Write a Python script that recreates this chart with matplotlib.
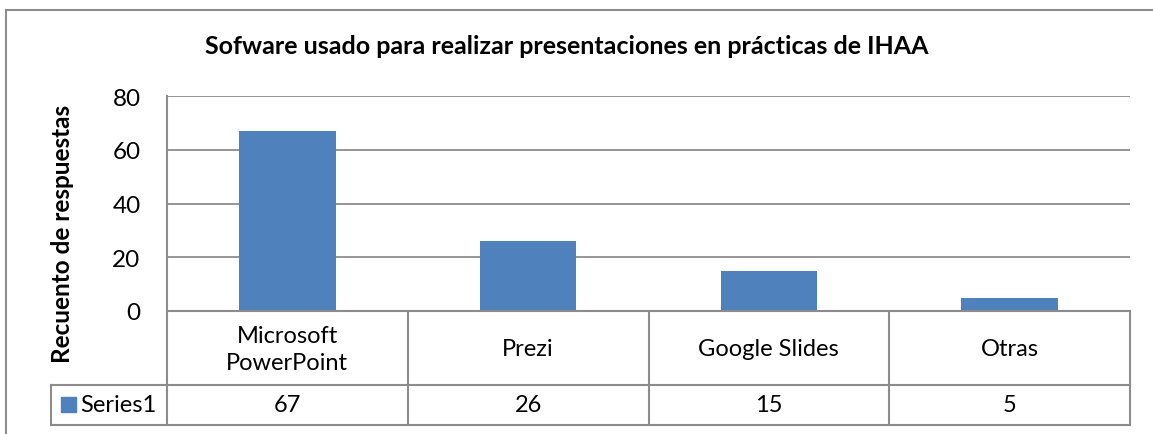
import matplotlib.pyplot as plt
import matplotlib.transforms as mtransforms
from matplotlib.lines import Line2D
from matplotlib.patches import Rectangle

# Data
categories = ['Microsoft\nPowerPoint', 'Prezi', 'Google Slides', 'Otras']
values = [67, 26, 15, 5]
series_name = 'Series1'
title = 'Sofware usado para realizar presentaciones en prácticas de IHAA'
ylabel = 'Recuento de respuestas'
yticks = [0, 20, 40, 60, 80]

W, H = 1153, 435
bar_color = '#4F81BD'
line_color = '#8C8C8C'
plt.rcParams['font.family'] = ['Lato', 'DejaVu Sans']


def fx(px):
    return px / W


def fy(py):
    return 1 - py / H


fig = plt.figure(figsize=(W / 100, H / 100), dpi=100)
ax = fig.add_axes([fx(167), fy(312), fx(1130) - fx(167), fy(97) - fy(312)])

x = list(range(len(categories)))
ax.bar(x, values, width=0.4, color=bar_color, zorder=2)
ax.set_xlim(-0.5, len(categories) - 0.5)
ax.set_ylim(0, 80)
ax.set_yticks(yticks)
ax.set_xticks([])
ax.tick_params(axis='y', length=0, pad=19, labelsize=17.5)
ax.yaxis.grid(True, color=line_color, linewidth=1.3, zorder=0)
for s in ax.spines.values():
    s.set_visible(False)

# chart border (top and left visible)
fig.add_artist(Line2D([fx(6), fx(6)], [fy(11), 0], color=line_color, lw=1.5))
fig.add_artist(Line2D([fx(6), 1], [fy(11), fy(11)], color=line_color, lw=1.5))

# data table
tr = mtransforms.blended_transform_factory(ax.transData, fig.transFigure)
left_px = -0.5 + (51 - 167) / 963 * len(categories)
kw = dict(color=line_color, lw=1.5, transform=tr, clip_on=False)
fig.add_artist(Line2D([-0.5, -0.5], [fy(97), fy(426)], **kw))
for i in range(1, len(categories) + 1):
    fig.add_artist(Line2D([i - 0.5, i - 0.5], [fy(312), fy(426)], **kw))
fig.add_artist(Line2D([-0.5, len(categories) - 0.5], [fy(312), fy(312)], **kw))
for py in (386, 426):
    fig.add_artist(Line2D([left_px, len(categories) - 0.5], [fy(py), fy(py)], **kw))
fig.add_artist(Line2D([left_px, left_px], [fy(386), fy(426)], **kw))

for i, (c, v) in enumerate(zip(categories, values)):
    fig.text(i, fy(350), c, transform=tr, ha='center', va='center',
             fontsize=17, linespacing=1.4)
    fig.text(i, fy(406), str(v), transform=tr, ha='center', va='center',
             fontsize=17)

fig.add_artist(Rectangle((fx(61), fy(413)), fx(15), fy(398) - fy(413),
                         color=bar_color, transform=fig.transFigure))
fig.text(fx(80), fy(406), series_name, ha='left', va='center', fontsize=17)

fig.text(fx(567), fy(47), title, ha='center', va='center',
         fontsize=18, fontweight='bold')
fig.text(fx(62), fy(234), ylabel, ha='center', va='center', rotation=90,
         fontsize=17.5, fontweight='bold')

fig.savefig('out.png', dpi=100)
